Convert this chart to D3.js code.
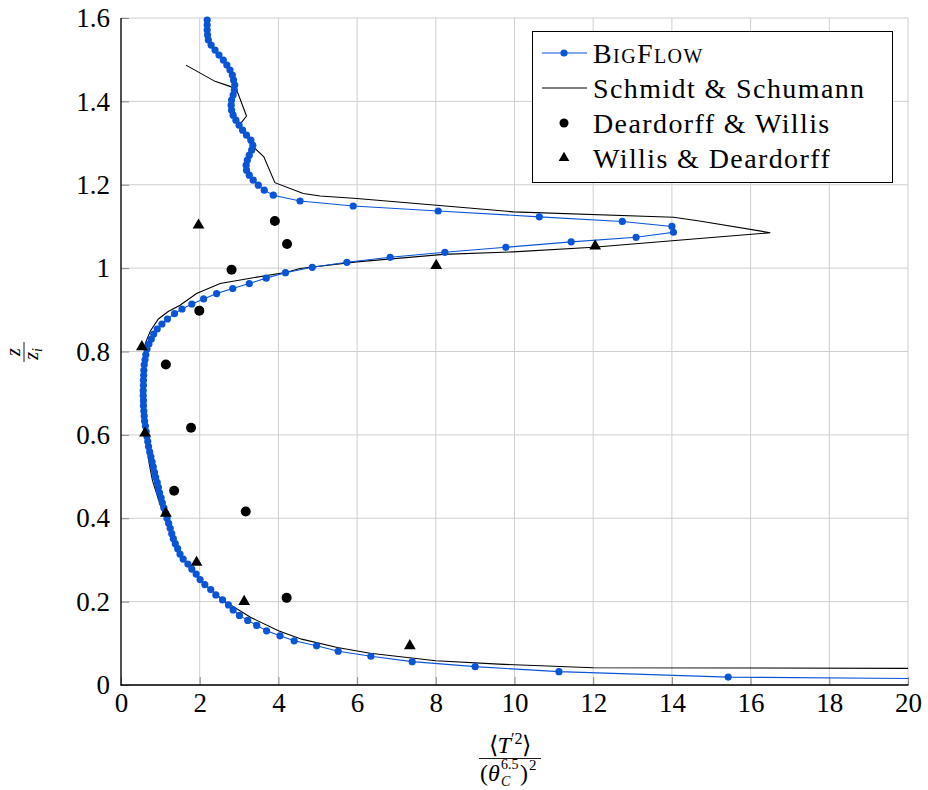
<!DOCTYPE html>
<html>
<head>
<meta charset="utf-8">
<script src="https://cdn.jsdelivr.net/npm/d3@7"></script>
<style>
  html, body { margin: 0; padding: 0; background: #fff; }
  svg { display: block; }
</style>
</head>
<body>
<svg id="chart" width="928" height="790" font-family="Liberation Serif, serif"></svg>
<script>
// ---------------- data ----------------
const bigflowZ = [0.006,0.019,0.032,0.044,0.056,0.069,0.081,0.094,0.106,0.118,0.130,0.143,0.155,0.167,0.180,0.192,0.204,0.216,0.229,0.241,0.253,0.266,0.278,0.290,0.302,0.314,0.327,0.339,0.351,0.363,0.376,0.388,0.400,0.412,0.425,0.437,0.449,0.461,0.474,0.486,0.498,0.510,0.523,0.535,0.547,0.559,0.572,0.584,0.596,0.608,0.621,0.633,0.645,0.657,0.670,0.682,0.694,0.706,0.719,0.731,0.743,0.755,0.768,0.780,0.792,0.806,0.818,0.830,0.842,0.854,0.866,0.878,0.891,0.902,0.914,0.926,0.939,0.951,0.963,0.976,0.989,1.002,1.014,1.026,1.038,1.050,1.063,1.074,1.086,1.100,1.112,1.123,1.137,1.149,1.161,1.175,1.187,1.199,1.211,1.223,1.235,1.247,1.259,1.271,1.283,1.295,1.307,1.319,1.331,1.343,1.355,1.367,1.379,1.391,1.403,1.415,1.427,1.439,1.451,1.463,1.475,1.487,1.499,1.511,1.523,1.535,1.547,1.559,1.571,1.583,1.595];
const bigflowT = [33.0,15.43,11.13,9.0,7.4,6.35,5.52,4.97,4.40,4.04,3.70,3.45,3.22,3.01,2.85,2.73,2.58,2.41,2.28,2.13,2.01,1.91,1.80,1.70,1.58,1.50,1.44,1.38,1.33,1.29,1.25,1.21,1.17,1.13,1.09,1.05,1.02,0.98,0.95,0.92,0.88,0.85,0.82,0.79,0.76,0.73,0.70,0.68,0.66,0.64,0.62,0.60,0.59,0.58,0.57,0.57,0.565,0.565,0.57,0.57,0.575,0.58,0.59,0.61,0.63,0.66,0.71,0.77,0.83,0.92,1.04,1.18,1.36,1.55,1.80,2.10,2.43,2.84,3.26,3.69,4.18,4.86,5.74,6.84,8.23,9.78,11.44,13.09,14.04,14.0,12.74,10.63,8.06,5.90,4.55,3.87,3.64,3.49,3.36,3.26,3.19,3.18,3.21,3.26,3.32,3.35,3.30,3.19,3.09,3.00,2.92,2.85,2.81,2.80,2.81,2.85,2.88,2.89,2.86,2.83,2.77,2.69,2.60,2.49,2.39,2.29,2.22,2.20,2.19,2.19,2.19];

const schmidtT = [20.0,12.0,9.6,8.0,6.33,5.5,4.59,4.0,3.3,2.6,2.0,1.6,1.3,1.12,0.97,0.80,0.72,0.62,0.57,0.56,0.57,0.62,0.75,0.95,1.20,1.50,1.92,2.52,3.36,4.21,4.55,5.99,8.19,9.97,12.0,14.7,16.5,14.7,14.04,9.97,8.02,5.99,5.06,4.63,3.91,3.63,3.36,3.01,3.19,2.94,2.77,2.39,1.65];
const schmidtZ = [0.040,0.0415,0.050,0.058,0.076,0.090,0.110,0.130,0.162,0.203,0.252,0.300,0.350,0.400,0.440,0.490,0.530,0.600,0.660,0.720,0.780,0.820,0.850,0.878,0.896,0.911,0.939,0.963,0.977,0.990,0.999,1.015,1.033,1.039,1.050,1.071,1.085,1.113,1.122,1.135,1.151,1.167,1.173,1.179,1.205,1.267,1.291,1.343,1.365,1.427,1.436,1.448,1.487];

const deardorffT = [3.91,4.22,2.81,1.99,1.14,1.78,1.35,3.17,4.21];
const deardorffZ = [1.113,1.058,0.996,0.898,0.769,0.617,0.466,0.416,0.209];

const willisT = [1.97,8.01,12.05,0.53,0.61,1.14,1.92,3.13,7.34];
const willisZ = [1.103,1.006,1.053,0.811,0.604,0.412,0.294,0.200,0.094];

const xTicks = [0,2,4,6,8,10,12,14,16,18,20];
const xTickLabels = ["0","2","4","6","8","10","12","14","16","18","20"];
const yTicks = [0,0.2,0.4,0.6,0.8,1,1.2,1.4,1.6];
const yTickLabels = ["0","0.2","0.4","0.6","0.8","1","1.2","1.4","1.6"];

const legendLabels = ["BigFlow","Schmidt & Schumann","Deardorff & Willis","Willis & Deardorff"];

// ---------------- layout ----------------
const FONT = "Liberation Serif, serif";
const L = 121, R = 908, T = 18, B = 685;
const BLUE = "#0a55d6";

const svg = d3.select("#chart");
const x = d3.scaleLinear().domain([0, 20]).range([L, R]);
const y = d3.scaleLinear().domain([0, 1.6]).range([B, T]);

// grid
const grid = svg.append("g");
grid.selectAll("line.vx").data(xTicks).join("line")
  .attr("x1", d => x(d)).attr("x2", d => x(d)).attr("y1", T).attr("y2", B)
  .attr("stroke", "#cfcfcf").attr("stroke-width", 1);
grid.selectAll("line.hy").data(yTicks).join("line")
  .attr("x1", L).attr("x2", R).attr("y1", d => y(d)).attr("y2", d => y(d))
  .attr("stroke", "#cfcfcf").attr("stroke-width", 1);

// axes
const xAxis = d3.axisBottom(x).tickValues(xTicks).tickFormat((d, i) => xTickLabels[i])
  .tickSize(-8).tickPadding(8);
const yAxis = d3.axisLeft(y).tickValues(yTicks).tickFormat((d, i) => yTickLabels[i])
  .tickSize(-8).tickPadding(11);

const gx = svg.append("g").attr("transform", `translate(0,${B})`).call(xAxis);
const gy = svg.append("g").attr("transform", `translate(${L},0)`).call(yAxis);
[gx, gy].forEach(g => {
  g.attr("font-family", FONT);
  g.select(".domain").remove();
  g.selectAll(".tick line").attr("stroke", "#8a8a8a");
  g.selectAll(".tick text").attr("font-family", FONT)
    .attr("font-size", 27).attr("fill", "#000");
});
svg.append("line").attr("x1", L).attr("x2", L).attr("y1", T).attr("y2", B + 0.5)
  .attr("stroke", "#000").attr("stroke-width", 1.3);
svg.append("line").attr("x1", L - 0.5).attr("x2", R + 0.5).attr("y1", B).attr("y2", B)
  .attr("stroke", "#000").attr("stroke-width", 1.3);

// clip
svg.append("clipPath").attr("id", "plotclip").append("rect")
  .attr("x", L).attr("y", T - 6).attr("width", R - L).attr("height", B - T + 6);

const plot = svg.append("g").attr("clip-path", "url(#plotclip)");

// Schmidt & Schumann
const schmidt = schmidtT.map((t, i) => [t, schmidtZ[i]]);
plot.append("path").datum(schmidt)
  .attr("d", d3.line().x(d => x(d[0])).y(d => y(d[1])))
  .attr("fill", "none").attr("stroke", "#000").attr("stroke-width", 1.1);

// BigFlow
const bigflow = bigflowT.map((t, i) => [t, bigflowZ[i]]);
plot.append("path").datum(bigflow)
  .attr("d", d3.line().x(d => x(d[0])).y(d => y(d[1])))
  .attr("fill", "none").attr("stroke", BLUE).attr("stroke-width", 1.1);
plot.selectAll("circle.bf").data(bigflow).join("circle")
  .attr("cx", d => x(d[0])).attr("cy", d => y(d[1])).attr("r", 3.6)
  .attr("fill", BLUE);

// Deardorff & Willis
const dw = deardorffT.map((t, i) => [t, deardorffZ[i]]);
plot.selectAll("circle.dw").data(dw).join("circle")
  .attr("cx", d => x(d[0])).attr("cy", d => y(d[1])).attr("r", 5).attr("fill", "#000");

// Willis & Deardorff
const wd = willisT.map((t, i) => [t, willisZ[i]]);
const tri = d3.symbol().type(d3.symbolTriangle).size(60);
plot.selectAll("path.wd").data(wd).join("path")
  .attr("transform", d => `translate(${x(d[0])},${y(d[1])})`)
  .attr("d", tri).attr("fill", "#000");

// legend
const lg = svg.append("g");
lg.append("rect").attr("x", 532.5).attr("y", 31.5).attr("width", 360).attr("height", 151)
  .attr("fill", "#fff").attr("stroke", "#000").attr("stroke-width", 1);
const rowY = [53, 88, 123, 158];
const lx1 = 542, lx2 = 587, lmx = 564;
lg.append("line").attr("x1", lx1).attr("x2", lx2).attr("y1", rowY[0]).attr("y2", rowY[0])
  .attr("stroke", BLUE).attr("stroke-width", 1.1);
lg.append("circle").attr("cx", lmx).attr("cy", rowY[0]).attr("r", 3.6).attr("fill", BLUE);
lg.append("line").attr("x1", lx1).attr("x2", lx2).attr("y1", rowY[1]).attr("y2", rowY[1])
  .attr("stroke", "#000").attr("stroke-width", 1.1);
lg.append("circle").attr("cx", lmx).attr("cy", rowY[2]).attr("r", 4.5).attr("fill", "#000");
lg.append("path").attr("transform", `translate(${lmx},${rowY[3]})`)
  .attr("d", d3.symbol().type(d3.symbolTriangle).size(50)).attr("fill", "#000");

legendLabels.forEach((lab, i) => {
  const t = lg.append("text").attr("x", 593).attr("y", rowY[i] + 9.5)
    .attr("font-family", FONT).attr("font-size", 28).attr("letter-spacing", 1.4).text(lab);
  if (i === 0) t.style("font-variant", "small-caps");
});

// y label: z / z_i (rotated)
const yl = svg.append("g").attr("transform", "translate(24,352) rotate(-90)");
yl.append("text").attr("x", 0).attr("y", -4).attr("text-anchor", "middle")
  .attr("font-family", FONT).attr("font-size", 20).attr("font-style", "italic").text("z");
yl.append("line").attr("x1", -10).attr("x2", 10).attr("y1", 0).attr("y2", 0)
  .attr("stroke", "#000").attr("stroke-width", 0.9);
const yd = yl.append("text").attr("x", -2).attr("y", 14).attr("text-anchor", "middle")
  .attr("font-family", FONT).attr("font-size", 20).attr("font-style", "italic");
yd.append("tspan").text("z");
yd.append("tspan").attr("font-size", 14).attr("dy", 4).text("i");

// x label: <T'^2> / (theta_C^{6.5})^2
const xl = svg.append("g").attr("transform", "translate(510,758)");
const num = xl.append("text").attr("x", 0).attr("y", -5).attr("text-anchor", "middle")
  .attr("font-family", FONT).attr("font-size", 24);
num.append("tspan").text("\u27E8");
num.append("tspan").attr("font-style", "italic").text("T");
num.append("tspan").attr("font-size", 16).attr("dy", -9).text("\u2032");
num.append("tspan").attr("font-size", 16).text("2");
num.append("tspan").attr("dy", 9).text("\u27E9");
xl.append("line").attr("x1", -31).attr("x2", 31).attr("y1", 0.5).attr("y2", 0.5)
  .attr("stroke", "#000").attr("stroke-width", 0.9);
// denominator built from separate pieces so that sub/superscripts stack cleanly
const dBase = 23;
xl.append("text").attr("x", -30).attr("y", dBase).attr("font-family", FONT).attr("font-size", 24).text("(");
xl.append("text").attr("x", -22).attr("y", dBase).attr("font-family", FONT).attr("font-size", 24)
  .attr("font-style", "italic").text("\u03B8");
xl.append("text").attr("x", -9).attr("y", 11).attr("font-family", FONT).attr("font-size", 14).text("6.5");
xl.append("text").attr("x", -9).attr("y", 27.5).attr("font-family", FONT).attr("font-size", 14)
  .attr("font-style", "italic").text("C");
xl.append("text").attr("x", 10).attr("y", dBase).attr("font-family", FONT).attr("font-size", 24).text(")");
xl.append("text").attr("x", 19).attr("y", 12).attr("font-family", FONT).attr("font-size", 15).text("2");
</script>
</body>
</html>
